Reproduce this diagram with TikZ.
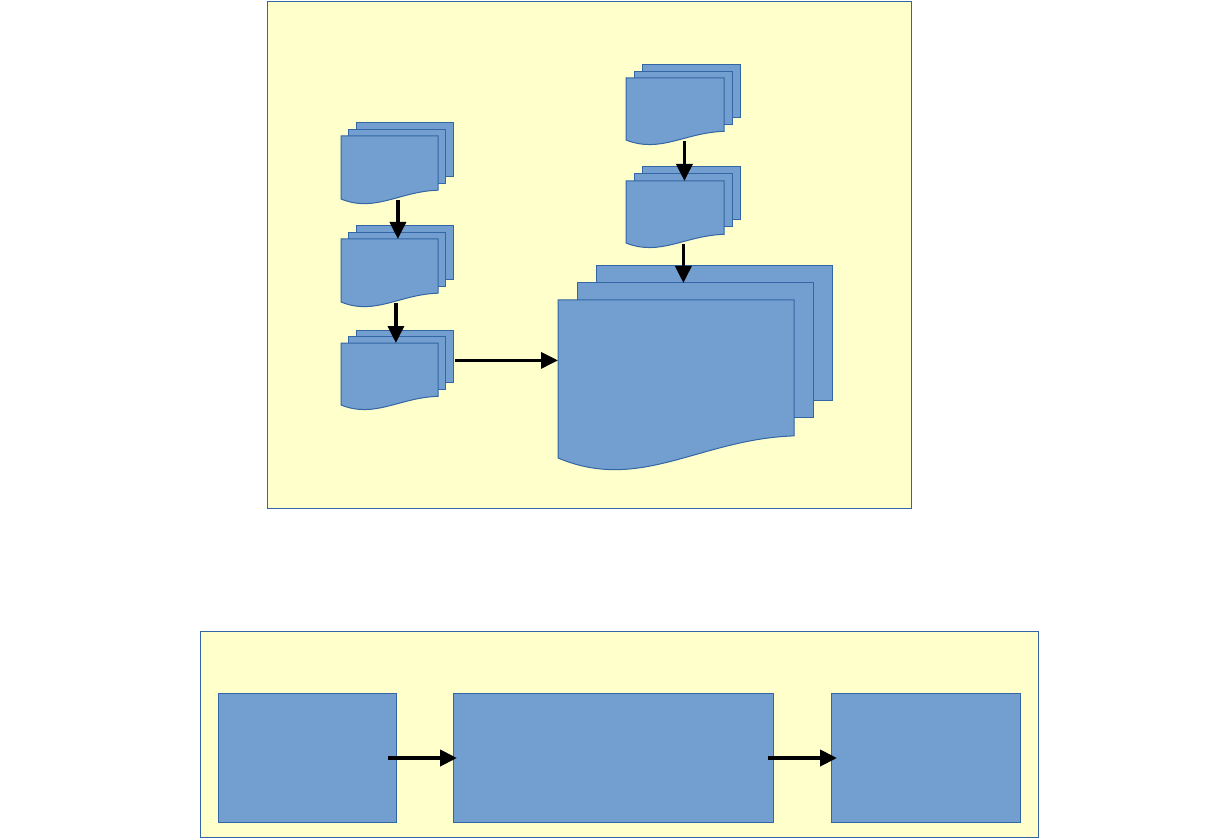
\documentclass[tikz,border=0pt]{standalone}
\usepackage{tikz}
\usetikzlibrary{arrows.meta,positioning}
\definecolor{docblue}{HTML}{729FCF}
\definecolor{docline}{HTML}{3465A4}
\definecolor{panelyellow}{HTML}{FFFFCC}

% stack of three sheets, front sheet with wavy bottom
% #1 name, #2,#3 top left of front sheet, #4 width, #5 height, #6,#7 sheet offset
\newcommand{\docstack}[7]{%
  \begin{scope}[shift={(#2,#3)}]
    \draw[sheet] ({2*#6},{-2*#7}) rectangle ({#4+2*#6},{-2*#7+0.85*#5});
    \draw[sheet] (#6,{-#7}) rectangle ({#4+#6},{-#7+0.85*#5});
    \draw[sheet] (0,0) -- (#4,0) -- (#4,{0.86*#5})
      .. controls ({0.6*#4},{0.88*#5}) and ({0.35*#4},{1.22*#5}) .. (0,#5) -- cycle;
    \node[inner sep=0,minimum width={#4*0.5pt},minimum height={#5*0.5pt},anchor=north west] (#1) at (0,0) {};
  \end{scope}}

\begin{document}
\begin{tikzpicture}[x=0.5pt,y=-0.5pt,
  sheet/.style={draw=docline,fill=docblue,line width=0.5pt},
  panel/.style={draw=docline,fill=panelyellow,line width=0.5pt,inner sep=0,anchor=north west},
  block/.style={draw=docline,fill=docblue,line width=0.5pt,inner sep=0,anchor=north west,minimum height=64.5pt},
  arr/.style={-{Triangle[length=8.5pt,width=8pt]},line width=1.7pt}]
\useasboundingbox (0,0) rectangle (1224,839);

% upper panel
\node[panel,minimum width=322pt,minimum height=253.5pt] (upper) at (267,1) {};
\docstack{d1}{341}{136}{97}{63}{7.5}{6.5}
\docstack{d2}{341}{239}{97}{63}{7.5}{6.5}
\docstack{d3}{341}{343}{97}{62}{7.5}{6.5}
\docstack{e1}{626}{78}{98}{62}{8}{6.5}
\docstack{e2}{626}{181}{98}{62}{8}{7}
\docstack{big}{558}{300}{236}{158}{19}{17}

\draw[arr] ([xshift=4pt]d1.south) -- ([xshift=4pt]d2.north);
\draw[arr] ([xshift=3pt]d2.south) -- ([xshift=3pt]d3.north);
\coordinate (c1) at ([xshift=8pt,yshift=7pt]d3.east);
\draw[arr] (c1) -- (c1 -| big.west);
\draw[arr] ([xshift=4.5pt]e1.south) -- ([xshift=4.5pt]e2.north);
\coordinate (c2) at ([xshift=4pt]e2.south);
\coordinate (c3) at (c2 |- big.north);
\draw[arr] (c2) -- ([yshift=8.5pt]c3);

% lower panel
\node[panel,minimum width=419pt,minimum height=103pt] (lower) at (200,631) {};
\node[block,minimum width=89pt] (r1) at (218,693) {};
\node[block,minimum width=160pt] (r2) at (453,693) {};
\node[block,minimum width=94.5pt] (r3) at (831,693) {};
\draw[arr,line width=2pt] ([xshift=-4.5pt]r1.east) -- ([xshift=2pt]r2.west);
\draw[arr,line width=2pt] ([xshift=-3pt]r2.east) -- ([xshift=3pt]r3.west);
\end{tikzpicture}
\end{document}
